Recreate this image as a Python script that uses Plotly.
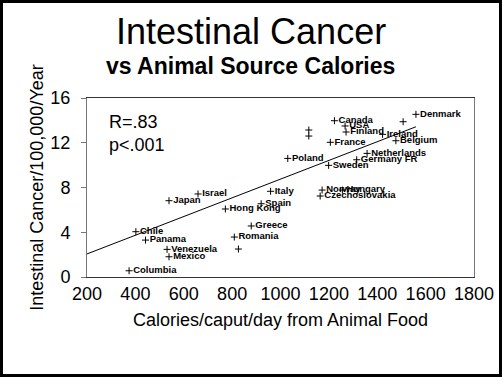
import plotly.graph_objects as go

countries = ["Chile", "Panama", "Venezuela", "Mexico", "Columbia", "Japan", "Israel",
             "Hong Kong", "Italy", "Spain", "Greece", "Romania", "", "Poland",
             "Canada", "USA", "Finland", "Ireland", "Belgium", "France", "Netherlands",
             "Germany FR", "Sweden", "Denmark", "", "", "", "Norway", "Hungary",
             "Czechoslovakia"]
calories = [402, 442, 531, 539, 374, 539, 659,
            772, 959, 920, 879, 809, 826, 1030,
            1223, 1267, 1271, 1422, 1477, 1206, 1358,
            1315, 1199, 1560, 1507, 1117, 1117, 1172, 1256,
            1164]
cancer = [4.05, 3.3, 2.47, 1.81, 0.56, 6.82, 7.42,
          6.08, 7.66, 6.55, 4.56, 3.57, 2.5, 10.6,
          13.97, 13.5, 12.96, 12.75, 12.18, 12.04, 11.05,
          10.48, 9.98, 14.54, 13.88, 13.14, 12.6, 7.77, 7.77,
          7.24]

trend_x = [200, 1560]
trend_y = [2.06, 13.43]

x_ticks = [200, 400, 600, 800, 1000, 1200, 1400, 1600, 1800]
y_ticks = [0, 4, 8, 12, 16]

FONT = "Liberation Sans, Arial, sans-serif"
L, R, T, B = 87, 28, 98, 100
PW, PH = 502 - L - R, 377 - T - B


def px_x(p):
    return (p - L) / PW


def px_y(p):
    return (377 - B - p) / PH


fig = go.Figure()
fig.add_trace(go.Scatter(
    x=trend_x, y=trend_y, mode="lines",
    line=dict(color="black", width=1), hoverinfo="skip", showlegend=False))
fig.add_trace(go.Scatter(
    x=calories, y=cancer, mode="markers+text", text=countries,
    textposition="middle right",
    textfont=dict(family=FONT, size=9.5, color="black", weight="bold"),
    marker=dict(symbol="cross-thin", size=5, line=dict(color="black", width=1)),
    showlegend=False, cliponaxis=False))

fig.add_annotation(text="R=.83<br>p<.001", xref="paper", yref="paper",
                   x=px_x(107), y=px_y(110), xanchor="left", yanchor="top",
                   align="left", showarrow=False,
                   font=dict(family=FONT, size=18, color="black"))

fig.add_annotation(text="Intestinal Cancer", xref="paper", yref="paper",
                   x=px_x(251), y=px_y(31), xanchor="center", yanchor="middle",
                   showarrow=False, font=dict(family=FONT, size=36, color="black"))
fig.add_annotation(text="<b>vs Animal Source Calories</b>", xref="paper", yref="paper",
                   x=px_x(250), y=px_y(66), xanchor="center", yanchor="middle",
                   showarrow=False, font=dict(family=FONT, size=23, color="black"))

# outer border of the picture
fig.add_shape(type="rect", xref="paper", yref="paper",
              x0=px_x(1.5), x1=px_x(500.5), y0=px_y(375.5), y1=px_y(1.5),
              line=dict(color="black", width=3), fillcolor="rgba(0,0,0,0)")

fig.update_layout(
    width=502, height=377,
    margin=dict(l=L, r=R, t=T, b=B, autoexpand=False),
    paper_bgcolor="white", plot_bgcolor="white",
    font=dict(family=FONT, color="black"),
    xaxis=dict(range=[200, 1800], tickvals=x_ticks, showgrid=False, zeroline=False,
               showline=True, linecolor="#333", linewidth=1, mirror=True,
               ticks="", tickfont=dict(size=18, color="black"), automargin=False,
               title=dict(text="Calories/caput/day from Animal Food",
                          font=dict(size=18, color="black"), standoff=10)),
    yaxis=dict(range=[0, 16], tickvals=y_ticks, showgrid=False, zeroline=False,
               showline=True, linecolor="#777", linewidth=1, mirror=True,
               ticks="outside", ticklen=5, tickcolor="#777", ticklabelstandoff=7,
               tickfont=dict(size=18, color="black"), automargin=False,
               title=dict(text="Intestinal Cancer/100,000/Year",
                          font=dict(size=18, color="black"), standoff=2)),
)

fig.write_html("out.html", config={"displayModeBar": False},
               post_script="document.body.style.margin='0';document.body.style.overflow='hidden';")
